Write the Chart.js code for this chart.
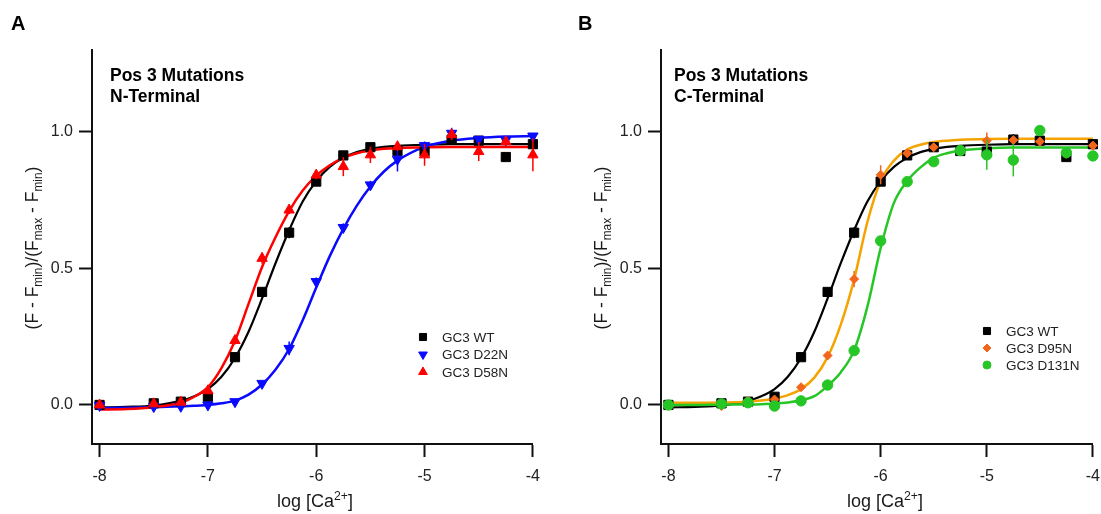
<!DOCTYPE html>
<html>
<head>
<meta charset="utf-8">
<script src="https://cdn.jsdelivr.net/npm/chart.js@4.4.1/dist/chart.umd.min.js"></script>
<style>
  body { margin: 0; width: 1101px; height: 514px; overflow: hidden; background: #fff;
         font-family: "Liberation Sans", Arial, sans-serif; color: #1a1a1a; position: relative; }
  .panel { position: absolute; top: 0; height: 514px; }
  .txt { position: absolute; white-space: nowrap; }
  .letter { font-weight: bold; font-size: 20px; line-height: 20px; color: #000; }
  .ptitle { font-weight: bold; font-size: 17.5px; line-height: 21.3px; color: #000; }
  .xtitle { font-size: 18px; line-height: 18px; transform: translateX(-50%); }
  .ytitle { font-size: 17.5px; line-height: 18px; transform: translate(-50%, -50%) rotate(-90deg); }
  sub { font-size: 0.68em; vertical-align: -0.3em; line-height: 0; }
  sup { font-size: 0.68em; vertical-align: 0.55em; line-height: 0; }
</style>
</head>
<body>

<div class="panel" style="left:0; width:550px;"><canvas id="chartA"></canvas></div>
<div class="panel" style="left:550px; width:560px;"><canvas id="chartB"></canvas></div>

<div class="txt letter" style="left:11px; top:13px;">A</div>
<div class="txt letter" style="left:578px; top:13px;">B</div>

<div class="txt ptitle" style="left:110px; top:65px;">Pos 3 Mutations<br>N-Terminal</div>
<div class="txt ptitle" style="left:674px; top:65px;">Pos 3 Mutations<br>C-Terminal</div>

<div class="txt xtitle" style="left:315px; top:492px;">log [Ca<sup>2+</sup>]</div>
<div class="txt xtitle" style="left:885px; top:492px;">log [Ca<sup>2+</sup>]</div>

<div class="txt ytitle" style="left:32px; top:248px;">(F - F<sub>min</sub>)/(F<sub>max</sub> - F<sub>min</sub>)</div>
<div class="txt ytitle" style="left:601px; top:248px;">(F - F<sub>min</sub>)/(F<sub>max</sub> - F<sub>min</sub>)</div>

<script>
// Axis ticks
var xTicks = [-8, -7, -6, -5, -4];
var yTicks = [0, 0.5, 1.0];

// Calcium concentrations of the measurements (log M)
var logCa = [-8, -7.5, -7.25, -7, -6.75, -6.5, -6.25, -6, -5.75, -5.5, -5.25, -5, -4.75, -4.5, -4.25, -4];

// Normalised fluorescence
var wt     = [0.0, 0.006, 0.012, 0.03, 0.175, 0.414, 0.631, 0.818, 0.914, 0.944, 0.93, 0.928, 0.972, 0.968, 0.908, 0.955];
var wtErr  = [0.01, 0.01, 0.01, 0.012, 0.012, 0.015, 0.02, 0.015, 0.012, 0.01, 0.015, 0.015, 0.02, 0.01, 0.01, 0.01];
var d22n    = [-0.002, -0.006, -0.005, 0.0, 0.012, 0.079, 0.207, 0.452, 0.65, 0.806, 0.9, 0.95, 0.995, 0.973, 0.97, 0.985];
var d22nErr = [0.005, 0.005, 0.005, 0.005, 0.008, 0.01, 0.025, 0.015, 0.015, 0.015, 0.045, 0.015, 0.02, 0.01, 0.01, 0.01];
var d58n    = [0.0, 0.004, 0.01, 0.052, 0.236, 0.537, 0.714, 0.842, 0.873, 0.916, 0.946, 0.916, 0.99, 0.928, 0.964, 0.916];
var d58nErr = [0.01, 0.005, 0.005, 0.01, 0.015, 0.02, 0.015, 0.015, 0.035, 0.03, 0.015, 0.04, 0.02, 0.035, 0.015, 0.06];
var d95n    = [0.0, -0.004, 0.015, 0.02, 0.065, 0.181, 0.461, 0.843, 0.922, 0.944, 0.93, 0.968, 0.97, 0.965, 0.92, 0.95];
var d95nErr = [0.005, 0.015, 0.01, 0.008, 0.01, 0.01, 0.03, 0.035, 0.015, 0.01, 0.01, 0.03, 0.01, 0.01, 0.01, 0.01];
var d131n    = [0.0, 0.004, 0.008, -0.004, 0.015, 0.073, 0.199, 0.601, 0.818, 0.891, 0.932, 0.916, 0.897, 1.005, 0.924, 0.912];
var d131nErr = [0.005, 0.005, 0.005, 0.005, 0.008, 0.01, 0.01, 0.01, 0.01, 0.01, 0.01, 0.055, 0.06, 0.01, 0.01, 0.01];

// Fitted curves
var fitX = [-8, -7.75, -7.5, -7.25, -7.125, -7, -6.875, -6.75, -6.625, -6.5, -6.375, -6.25, -6.125,
            -6, -5.875, -5.75, -5.625, -5.5, -5.375, -5.25, -5, -4.75, -4.5, -4.25, -4];
var fitWT    = [-0.009, -0.007, -0.002, 0.015, 0.032, 0.058, 0.103, 0.172, 0.268, 0.39, 0.52, 0.64, 0.745,
                0.82, 0.872, 0.905, 0.926, 0.938, 0.945, 0.949, 0.953, 0.955, 0.955, 0.955, 0.955];
var fitD22N  = [-0.011, -0.010, -0.008, -0.005, -0.003, 0.0, 0.006, 0.016, 0.038, 0.075, 0.13, 0.205, 0.31,
                0.43, 0.545, 0.645, 0.73, 0.80, 0.855, 0.895, 0.945, 0.968, 0.978, 0.983, 0.985];
var fitD58N  = [-0.017, -0.015, -0.008, 0.008, 0.03, 0.065, 0.135, 0.235, 0.37, 0.505, 0.615, 0.71, 0.785,
                0.84, 0.878, 0.905, 0.922, 0.932, 0.938, 0.941, 0.944, 0.945, 0.945, 0.945, 0.945];
var fitD95N  = [0.008, 0.008, 0.009, 0.012, 0.016, 0.024, 0.036, 0.058, 0.1, 0.175, 0.295, 0.46, 0.67,
                0.82, 0.895, 0.935, 0.953, 0.963, 0.968, 0.971, 0.974, 0.975, 0.975, 0.975, 0.975];
var fitD131N = [0.0, 0.0, 0.001, 0.002, 0.003, 0.005, 0.009, 0.017, 0.032, 0.07, 0.12, 0.2, 0.36,
                0.575, 0.74, 0.82, 0.87, 0.905, 0.922, 0.932, 0.94, 0.943, 0.943, 0.943, 0.943];

// Series names (legend order)
var seriesA = ['GC3 WT', 'GC3 D22N', 'GC3 D58N'];
var seriesB = ['GC3 WT', 'GC3 D95N', 'GC3 D131N'];

Chart.defaults.font.family = '"Liberation Sans", Arial, sans-serif';
Chart.defaults.color = '#222';
Chart.defaults.animation = false;

var looks = {
    'GC3 WT':    { color: '#000000', line: '#000000', shape: 'rect',     r: 6.5, rot: 0,   lr: 5,   lw: 2.2 },
    'GC3 D22N':  { color: '#0a0aff', line: '#0a0aff', shape: 'triangle', r: 6,   rot: 180, lr: 5,   lw: 2.5 },
    'GC3 D58N':  { color: '#ff0000', line: '#ff0000', shape: 'triangle', r: 6,   rot: 0,   lr: 5,   lw: 2.5 },
    'GC3 D95N':  { color: '#f2661c', line: '#f5a300', shape: 'rectRot',  r: 4.5, rot: 0,   lr: 4,   lw: 2.5 },
    'GC3 D131N': { color: '#26c626', line: '#26c626', shape: 'circle',   r: 5.2, rot: 0,   lr: 4,   lw: 2.5 }
};

function pts(xs, ys) {
    return xs.map(function (x, i) { return { x: x, y: ys[i] }; });
}

function markerSet(name, ys, errs) {
    var l = looks[name];
    return {
        label: name, data: pts(logCa, ys), errors: errs, showLine: false, clip: false,
        pointStyle: l.shape, pointRotation: l.rot, pointRadius: l.r,
        backgroundColor: l.color, borderColor: l.color, pointBorderWidth: 1
    };
}

function fitSet(name, ys) {
    var l = looks[name];
    return {
        label: name + ' fit', data: pts(fitX, ys), pointRadius: 0, clip: false,
        borderColor: l.line, borderWidth: l.lw, cubicInterpolationMode: 'monotone', fill: false
    };
}

// vertical error bars, drawn right after their own dataset
var errorBars = {
    id: 'errorBars',
    afterDatasetDraw: function (chart, args) {
        var ds = chart.data.datasets[args.index];
        if (!ds.errors) return;
        var xs = chart.scales.x, ys = chart.scales.y, ctx = chart.ctx;
        ctx.save();
        ctx.strokeStyle = ds.borderColor;
        ctx.lineWidth = 1.5;
        ds.data.forEach(function (p, i) {
            var px = xs.getPixelForValue(p.x);
            ctx.beginPath();
            ctx.moveTo(px, ys.getPixelForValue(p.y - ds.errors[i]));
            ctx.lineTo(px, ys.getPixelForValue(p.y + ds.errors[i]));
            ctx.stroke();
        });
        ctx.restore();
    }
};

function makeLegend(names, x, y, step) {
    return {
        id: 'markerLegend',
        afterDraw: function (chart) {
            var ctx = chart.ctx;
            ctx.save();
            names.forEach(function (n, i) {
                var l = looks[n];
                var yy = y + i * step;
                ctx.fillStyle = l.color;
                ctx.strokeStyle = l.color;
                ctx.lineWidth = 1;
                Chart.helpers.drawPoint(ctx, { pointStyle: l.shape, radius: l.lr, rotation: l.rot, borderWidth: 1 }, x, yy);
                ctx.fillStyle = '#222';
                ctx.font = '13.5px "Liberation Sans", Arial, sans-serif';
                ctx.textBaseline = 'middle';
                ctx.fillText(n, x + 19, yy + 1);
            });
            ctx.restore();
        }
    };
}

function makePanel(id, datasets, axisWidth, legend) {
    var axisLook = {
        grid: { drawOnChartArea: false, tickLength: 13, tickWidth: 2, tickColor: '#111' },
        border: { display: true, color: '#111', width: 2 }
    };
    return new Chart(document.getElementById(id), {
        type: 'line',
        data: { datasets: datasets },
        options: {
            responsive: true,
            maintainAspectRatio: false,
            layout: { padding: { top: 50, right: 0, bottom: 0, left: 0 } },
            plugins: { legend: { display: false }, tooltip: { enabled: false } },
            scales: {
                x: Object.assign({
                    type: 'linear', min: -8.07, max: -4,
                    afterBuildTicks: function (s) { s.ticks = xTicks.map(function (v) { return { value: v }; }); },
                    afterFit: function (s) { s.height = 70; },
                    ticks: { padding: 10, font: { size: 16 }, maxRotation: 0, color: '#222',
                             callback: function (v) { return String(v); } }
                }, axisLook),
                y: Object.assign({
                    type: 'linear', min: -0.143, max: 1.30,
                    afterBuildTicks: function (s) { s.ticks = yTicks.map(function (v) { return { value: v }; }); },
                    afterFit: function (s) { s.width = axisWidth; },
                    ticks: { padding: 6, font: { size: 16 }, color: '#222',
                             callback: function (v) { return v.toFixed(1); } }
                }, axisLook)
            }
        },
        plugins: [errorBars, legend]
    });
}

// Panel A : N-terminal mutations (first dataset drawn on top)
makePanel('chartA', [
    markerSet('GC3 D58N', d58n, d58nErr),
    markerSet('GC3 D22N', d22n, d22nErr),
    markerSet('GC3 WT', wt, wtErr),
    fitSet('GC3 D58N', fitD58N),
    fitSet('GC3 D22N', fitD22N),
    fitSet('GC3 WT', fitWT)
], 92, makeLegend(seriesA, 423, 337, 17.5));

// Panel B : C-terminal mutations
makePanel('chartB', [
    markerSet('GC3 D131N', d131n, d131nErr),
    markerSet('GC3 D95N', d95n, d95nErr),
    markerSet('GC3 WT', wt, wtErr),
    fitSet('GC3 D131N', fitD131N),
    fitSet('GC3 D95N', fitD95N),
    fitSet('GC3 WT', fitWT)
], 111, makeLegend(seriesB, 437, 331, 17));
</script>
</body>
</html>
